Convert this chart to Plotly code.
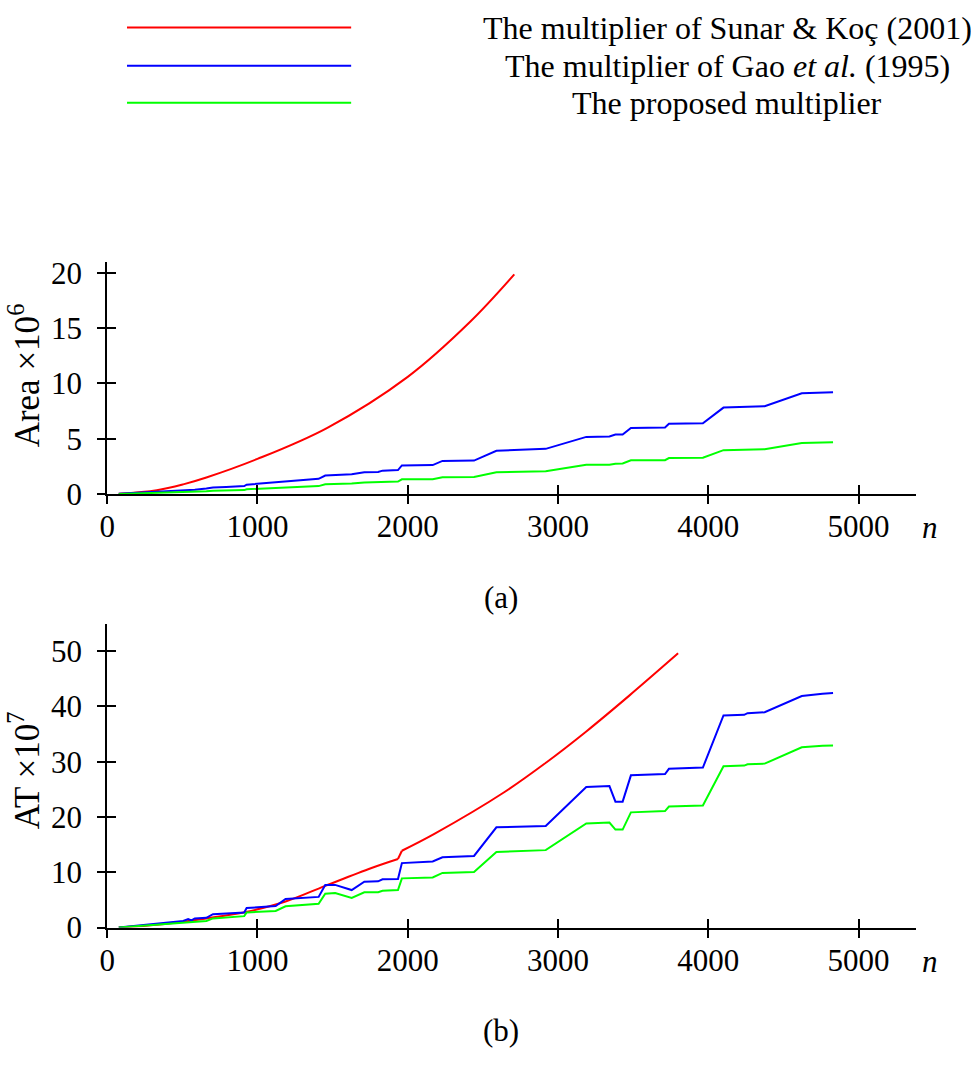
import plotly.graph_objects as go

# ---- data -------------------------------------------------------------
# field sizes n at which the Gao et al. and proposed curves have vertices
n_steps = [77, 330, 506, 539, 561, 583, 660, 704, 792, 912, 928, 1121, 1187,
           1407, 1451, 1517, 1627, 1711, 1803, 1832, 1935, 1961, 2166, 2231,
           2441, 2590, 2918, 3188, 3342, 3382, 3430, 3485, 3712, 3738, 3964,
           4101, 4239, 4261, 4375, 4622, 4760, 4830]

# area (x 10^6)
area_gao = [0.02, 0.18, 0.32, 0.35, 0.36, 0.40, 0.50, 0.60, 0.65, 0.73, 0.85,
            1.05, 1.15, 1.38, 1.68, 1.72, 1.79, 1.97, 2.00, 2.12, 2.17, 2.59,
            2.62, 3.00, 3.03, 3.91, 4.09, 5.17, 5.21, 5.38, 5.38, 5.97, 6.03,
            6.35, 6.41, 7.82, 7.88, 7.90, 7.94, 9.12, 9.18, 9.20]
area_prop = [0.01, 0.09, 0.16, 0.18, 0.18, 0.20, 0.25, 0.30, 0.32, 0.36, 0.44,
             0.55, 0.62, 0.72, 0.88, 0.90, 0.95, 1.04, 1.06, 1.10, 1.13, 1.33,
             1.35, 1.53, 1.55, 1.97, 2.06, 2.65, 2.66, 2.74, 2.76, 3.05, 3.07,
             3.26, 3.29, 3.97, 4.01, 4.03, 4.06, 4.62, 4.66, 4.68]

# area-time product (x 10^7)
at_gao = [0.02, 0.65, 1.18, 1.53, 1.30, 1.65, 1.76, 2.42, 2.54, 2.72, 3.53,
          3.88, 5.18, 5.54, 7.71, 7.71, 6.78, 8.29, 8.36, 8.72, 8.77, 11.65,
          11.94, 12.70, 12.95, 18.12, 18.35, 25.41, 25.59, 22.77, 22.77, 27.53,
          27.77, 28.71, 28.94, 38.36, 38.47, 38.77, 38.94, 41.89, 42.30, 42.42]
at_prop = [0.01, 0.48, 0.88, 1.00, 1.00, 1.05, 1.18, 1.65, 1.80, 2.06, 2.72,
           3.00, 3.83, 4.30, 6.10, 6.24, 5.36, 6.36, 6.40, 6.65, 6.78, 8.89,
           9.07, 9.88, 10.06, 13.66, 14.00, 18.83, 19.00, 17.71, 17.71, 20.83,
           21.07, 21.88, 22.06, 29.19, 29.30, 29.53, 29.65, 32.60, 32.90, 32.95]

# Sunar & Koç multiplier
n_sk_area = [77, 330, 506, 660, 1000, 1462, 2000, 2417, 2709]
area_sk = [0.03, 0.35, 0.88, 1.50, 3.18, 5.97, 10.60, 15.60, 19.86]

# AT has a jump between n = 1935 and n = 1961 (extra gate level)
n_sk_at_low = [77, 330, 660, 923, 1187, 1451, 1759, 1935]
at_sk_low = [0.02, 0.50, 1.65, 2.82, 4.70, 7.53, 10.77, 12.40]
n_sk_at_high = [1961, 2177, 2639, 2924, 3188, 3474, 3799]
at_sk_high = [13.89, 16.94, 24.42, 29.90, 35.47, 41.95, 49.60]

series_names = ["The multiplier of Sunar &amp; Koç (2001)",
                "The multiplier of Gao <i>et al.</i> (1995)",
                "The proposed multiplier"]
series_colors = ["#ff0000", "#0000ff", "#00ff00"]

x_ticks = [0, 1000, 2000, 3000, 4000, 5000]
area_ticks = [0, 5, 10, 15, 20]
at_ticks = [0, 10, 20, 30, 40, 50]

# ---- figure -----------------------------------------------------------
W, H = 971, 1068
FONT = "Liberation Serif, Times New Roman, Times, serif"
TICK_SIZE = 31
LW = 2
TL = 9
CLEAR = "rgba(0,0,0,0)"

fig = go.Figure()

def px_x(p):
    return p / W

def px_y(p):
    return 1 - p / H

x_dom = [px_x(100), px_x(916)]
a_dom = [px_y(499.3), px_y(261.7)]
b_dom = [px_y(942.7), px_y(631.7)]
x_range = [0, 5385]

def add_line(x, y, color, xa, ya, shape="linear"):
    fig.add_trace(go.Scatter(x=x, y=y, mode="lines", xaxis=xa, yaxis=ya,
                             line=dict(color=color, width=LW, shape=shape),
                             showlegend=False, hoverinfo="skip"))

# panel (a)
add_line(n_sk_area, area_sk, series_colors[0], "x", "y", "spline")
add_line(n_steps, area_gao, series_colors[1], "x", "y")
add_line(n_steps, area_prop, series_colors[2], "x", "y")
# panel (b)
add_line(n_sk_at_low, at_sk_low, series_colors[0], "x2", "y2", "spline")
add_line([n_sk_at_low[-1], n_sk_at_high[0]], [at_sk_low[-1], at_sk_high[0]],
         series_colors[0], "x2", "y2")
add_line(n_sk_at_high, at_sk_high, series_colors[0], "x2", "y2", "spline")
add_line(n_steps, at_gao, series_colors[1], "x2", "y2")
add_line(n_steps, at_prop, series_colors[2], "x2", "y2")

# empty traces so the tick overlays get drawn
for xa, ya in [("x3", "y3"), ("x4", "y4"), ("x3", "y5"), ("x4", "y6")]:
    fig.add_trace(go.Scatter(x=[None], y=[None], xaxis=xa, yaxis=ya,
                             showlegend=False, hoverinfo="skip"))

tickfont = dict(family=FONT, size=TICK_SIZE, color="black")

# labelled x axes: inward ticks; the outward half comes from an overlay
def main_x(anchor):
    return dict(domain=x_dom, range=x_range, anchor=anchor, tickvals=x_ticks,
                showline=True, linecolor="black", linewidth=LW,
                ticks="inside", ticklen=TL, tickwidth=LW, tickcolor="black",
                tickfont=tickfont, showgrid=False, zeroline=False,
                ticklabelstandoff=4)

# labelled y axes: long transparent ticks only set the label gap;
# the visible ticks come from two overlays
def main_y(anchor, dom, rng, tv):
    return dict(domain=dom, range=rng, anchor=anchor, tickvals=tv,
                showline=True, linecolor="black", linewidth=LW,
                ticks="outside", ticklen=TL + 8, tickwidth=LW, tickcolor=CLEAR,
                tickfont=tickfont, showgrid=False, zeroline=False)

def over_x(anchor, over):
    return dict(domain=x_dom, range=x_range, anchor=anchor, overlaying=over,
                tickvals=x_ticks, showline=False, showticklabels=False,
                ticks="outside", ticklen=TL, tickwidth=LW, tickcolor="black",
                showgrid=False, zeroline=False)

def over_y(anchor, over, dom, rng, tv, side):
    return dict(domain=dom, range=rng, anchor=anchor, overlaying=over,
                tickvals=tv, showline=False, showticklabels=False,
                ticks=side, ticklen=TL, tickwidth=LW, tickcolor="black",
                showgrid=False, zeroline=False)

fig.update_layout(
    width=W, height=H,
    margin=dict(l=0, r=0, t=0, b=0),
    paper_bgcolor="white", plot_bgcolor="white",
    showlegend=False,
    xaxis=main_x("y"),
    yaxis=main_y("x", a_dom, [0, 21], area_ticks),
    xaxis2=main_x("y2"),
    yaxis2=main_y("x2", b_dom, [0, 55], at_ticks),
    xaxis3=over_x("y3", "x"),
    yaxis3=over_y("x3", "y", a_dom, [0, 21], area_ticks, "inside"),
    yaxis5=over_y("x3", "y", a_dom, [0, 21], area_ticks, "outside"),
    xaxis4=over_x("y4", "x2"),
    yaxis4=over_y("x4", "y2", b_dom, [0, 55], at_ticks, "inside"),
    yaxis6=over_y("x4", "y2", b_dom, [0, 55], at_ticks, "outside"),
)

# legend: sample lines on the left, centred labels on the right
legend_rows = [22, 61, 99]
for name, color, row in zip(series_names, series_colors, legend_rows):
    fig.add_shape(type="line", xref="paper", yref="paper",
                  x0=px_x(120), x1=px_x(346), y0=px_y(row), y1=px_y(row),
                  line=dict(color=color, width=LW))
    fig.add_annotation(text=name, xref="paper", yref="paper",
                       x=px_x(725), y=px_y(row), xanchor="center",
                       yanchor="middle", showarrow=False,
                       font=dict(family=FONT, size=32, color="black"))

# axis titles and captions
title_font = dict(family=FONT, size=35, color="black")
text_font = dict(family=FONT, size=31, color="black")
fig.add_annotation(text="Area ×10<sup>6</sup>", textangle=-90,
                   xref="paper", yref="paper", x=px_x(17), y=px_y(378),
                   xanchor="center", yanchor="middle", showarrow=False,
                   font=title_font)
fig.add_annotation(text="AT ×10<sup>7</sup>", textangle=-90,
                   xref="paper", yref="paper", x=px_x(17), y=px_y(782),
                   xanchor="center", yanchor="middle", showarrow=False,
                   font=title_font)
for yy in (533, 977):
    fig.add_annotation(text="<i>n</i>", xref="paper", yref="paper",
                       x=px_x(930), y=px_y(yy), xanchor="center",
                       yanchor="middle", showarrow=False, font=text_font)
fig.add_annotation(text="(a)", xref="paper", yref="paper", x=px_x(497),
                   y=px_y(605), xanchor="center", yanchor="middle",
                   showarrow=False, font=text_font)
fig.add_annotation(text="(b)", xref="paper", yref="paper", x=px_x(497),
                   y=px_y(1048), xanchor="center", yanchor="middle",
                   showarrow=False, font=text_font)

fig.write_html("out.html")
